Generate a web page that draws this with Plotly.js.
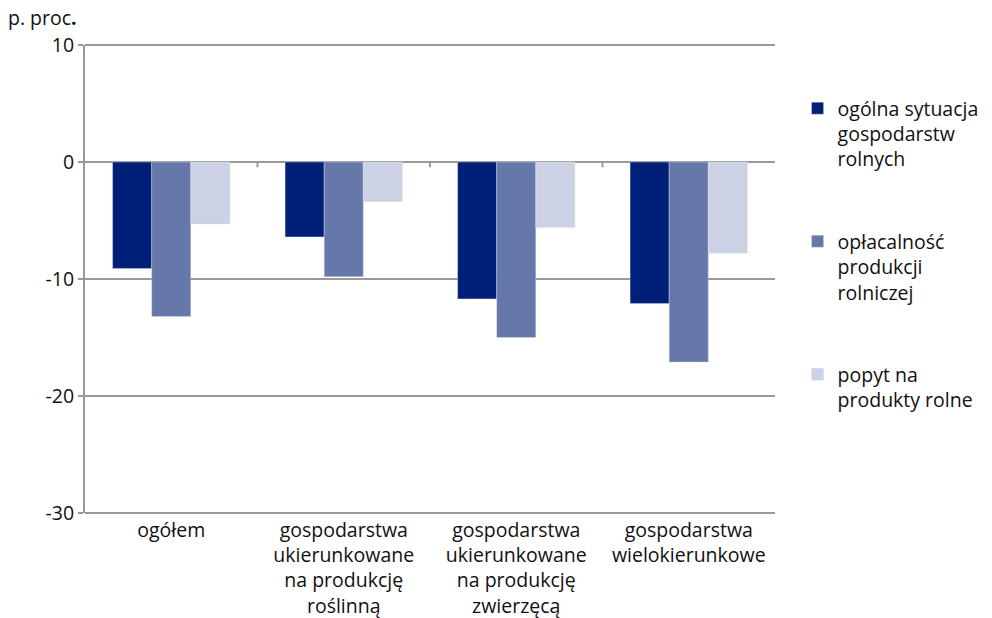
<!DOCTYPE html>
<html><head><meta charset="utf-8">
<script src="https://cdn.plot.ly/plotly-3.0.1.min.js"></script>
<style>html,body{margin:0;padding:0;background:#fff}#chart{width:992px;height:618px}</style>
</head><body><div id="chart"></div>
<script>
const categories = [
  "ogółem",
  "gospodarstwa<br>ukierunkowane<br>na produkcję<br>roślinną",
  "gospodarstwa<br>ukierunkowane<br>na produkcję<br>zwierzęcą",
  "gospodarstwa<br>wielokierunkowe"
];
const seriesNames = [
  "ogólna sytuacja<br>gospodarstw<br>rolnych",
  "opłacalność<br>produkcji<br>rolniczej",
  "popyt na<br>produkty rolne"
];
const ogolnaSytuacja = [-9.1, -6.4, -11.7, -12.1];
const oplacalnosc = [-13.2, -9.8, -15.0, -17.1];
const popyt = [-5.3, -3.4, -5.6, -7.8];
const colors = ["#001f78", "#6677aa", "#ccd2e4"];
const yTicks = [10, 0, -10, -20, -30];

const font = "'Open Sans', 'Noto Sans', sans-serif";
const fs = 19.5;
const values = [ogolnaSytuacja, oplacalnosc, popyt];
const traces = values.map((v, i) => ({
  type: "bar", x: categories, y: v, name: seriesNames[i],
  marker: {color: colors[i], line: {color: "rgba(220,225,240,0.8)", width: 0.5}},
  legendgroup: "g" + i, hoverinfo: "none"
}));

const shapes = [];
for (let k = 0; k < categories.length - 1; k++) {
  shapes.push({type: "line", xref: "x", yref: "y", x0: k + 0.5, x1: k + 0.5, y0: 0, y1: -0.45,
    line: {color: "#999", width: 2}});
}
// top and bottom frame lines of the plot area
[0, 1].forEach(p => shapes.push({type: "line", xref: "paper", yref: "paper", x0: 0, x1: 1, y0: p, y1: p,
  line: {color: "#999", width: 2}}));

const layout = {
  width: 992, height: 618,
  margin: {l: 85, r: 217, t: 45, b: 105},
  paper_bgcolor: "#fff", plot_bgcolor: "#fff",
  font: {family: font, size: fs, color: "#111"},
  barmode: "group", bargap: 0.32, bargroupgap: 0,
  showlegend: true,
  legend: {xref: "container", yref: "container", x: 0.804, y: 0.856, xanchor: "left", yanchor: "top",
    maxheight: 600,
    traceorder: "grouped", tracegroupgap: 54, valign: "top",
    font: {family: font, size: fs, color: "#111"}, itemwidth: 30, bgcolor: "rgba(0,0,0,0)"},
  xaxis: {type: "category", showgrid: false, zeroline: false, showline: false,
    ticks: "", ticklabelstandoff: 3, tickfont: {family: font, size: fs, color: "#111"}, automargin: false},
  yaxis: {range: [-30, 10], tickvals: yTicks, ticktext: yTicks.map(String),
    showgrid: true, gridcolor: "#999", gridwidth: 2,
    zeroline: true, zerolinecolor: "#999", zerolinewidth: 2,
    showline: true, linecolor: "#999", linewidth: 2,
    ticks: "outside", ticklen: 5, tickcolor: "#999", tickwidth: 2,
    tickfont: {family: font, size: fs, color: "#111"}, automargin: false},
  shapes: shapes,
  annotations: [{text: "p. proc<b>.</b>", xref: "paper", yref: "paper", x: -0.009, y: 1.058,
    xanchor: "right", yanchor: "middle", showarrow: false,
    font: {family: font, size: fs, color: "#111"}}]
};
Plotly.newPlot("chart", traces, layout, {displayModeBar: false, staticPlot: true});
</script></body></html>
